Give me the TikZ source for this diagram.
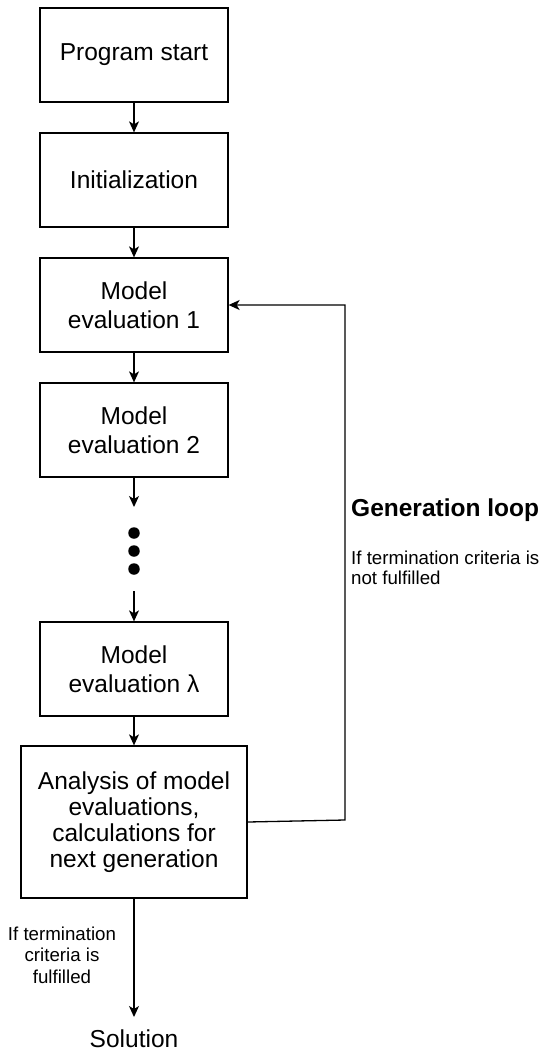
\documentclass[tikz,border=0pt]{standalone}
\usepackage{fontspec}
\setmainfont{Liberation Sans}
\usetikzlibrary{arrows.meta}
\begin{document}
\begin{tikzpicture}[x=1pt,y=-1pt,
  box/.style={draw, line width=1.3pt, minimum width=188pt, minimum height=94pt, inner sep=0pt, align=center, font=\fontsize{24.5}{28.5}\selectfont},
  arr/.style={line width=1.3pt, -{Stealth[length=11pt,width=10pt,inset=3pt]}},
  dot/.style={circle, fill, inner sep=0pt, minimum size=11.5pt},
  small/.style={font=\fontsize{18.7}{20}\selectfont, inner sep=0pt},
]
\useasboundingbox (0,0) rectangle (546,1053);
\node[box] (start) at (134,55) {Program start};
\node[box] (init) at (134,180) {Initialization};
\node[box] (me1) at (134,305) {Model\\evaluation 1};
\node[box] (me2) at (134,430) {Model\\evaluation 2};
\node[dot] (d1) at (134,533) {};
\node[dot] (d2) at (134,551) {};
\node[dot] (d3) at (134,569) {};
\node[box] (mel) at (134,669) {Model\\evaluation λ};
\node[box, minimum width=226pt, minimum height=152pt, font=\fontsize{24.5}{26}\selectfont] (ana) at (134,822) {Analysis of model\\evaluations,\\calculations for\\next generation};
\node[font=\fontsize{24.5}{28}\selectfont, inner sep=0pt] (sol) at (134,1039) {Solution};
\coordinate (e2) at (134,507);
\coordinate (s3) at (134,591);
\coordinate (solin) at (134,1017);
\coordinate (lr1) at (345,820);
\coordinate (lr2) at (345,305);
\draw[arr] (start) -- (init);
\draw[arr] (init) -- (me1);
\draw[arr] (me1) -- (me2);
\draw[arr] (me2) -- (e2);
\draw[arr] (s3) -- (mel);
\draw[arr] (mel) -- (ana);
\draw[arr] (ana) -- (solin);
\draw[arr] (ana.east) -- (lr1) -- (lr2) -- (me1.east);
\node[anchor=base west, inner sep=0pt, font=\bfseries\fontsize{24.5}{28}\selectfont] (gl) at (351,516) {Generation loop};
\node[small, anchor=west, align=left, font=\fontsize{18.7}{19.5}\selectfont] (nf) at (351,568) {If termination criteria is\\not fulfilled};
\node[small, align=center, font=\fontsize{18.7}{21.5}\selectfont] (ff) at (62,955) {If termination\\criteria is\\fulfilled};
\end{tikzpicture}
\end{document}
